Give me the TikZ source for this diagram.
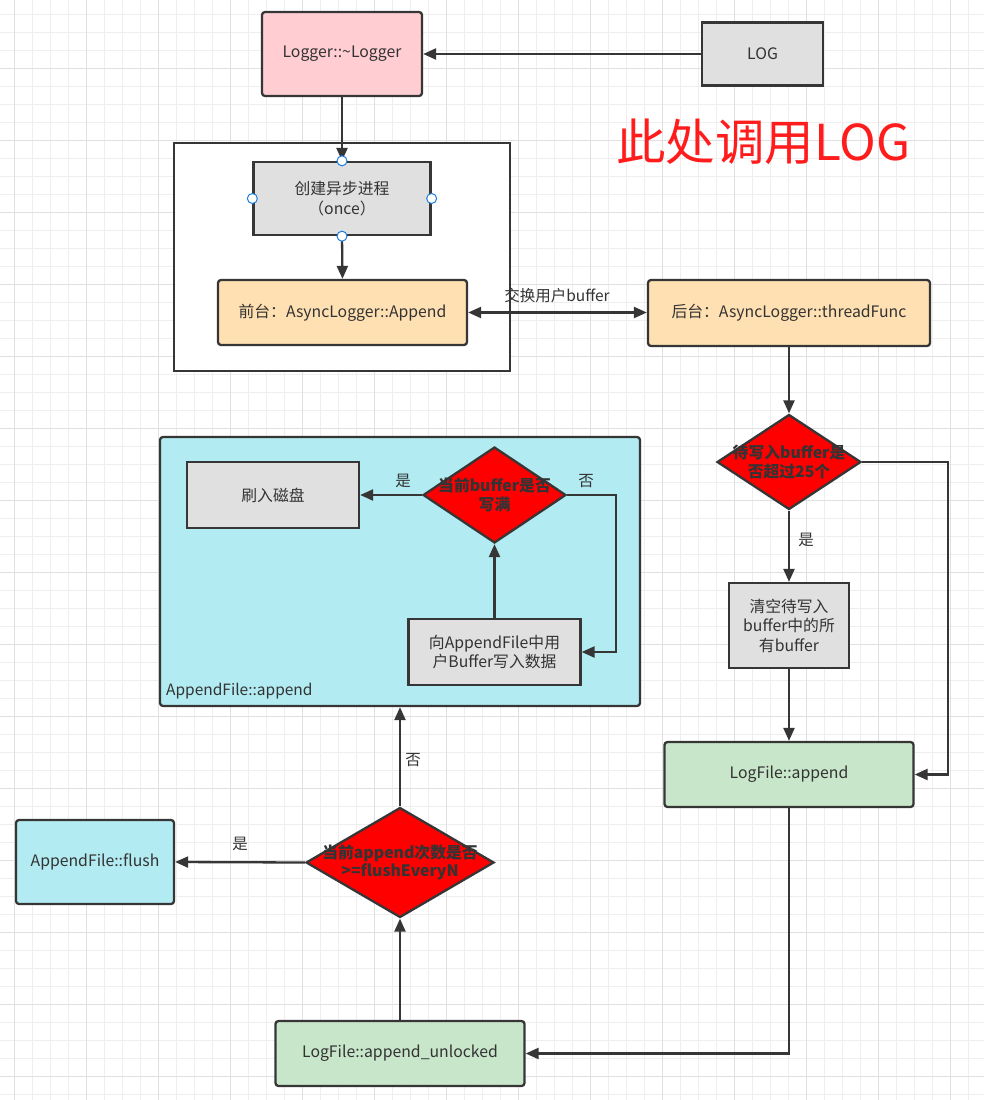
\documentclass[tikz,border=0pt]{standalone}
\usepackage{fontspec}
\setmainfont{Noto Sans CJK SC}
\usetikzlibrary{arrows.meta,shapes.geometric}
\definecolor{stk}{HTML}{363636}
\definecolor{txt}{HTML}{333333}
\definecolor{pinkf}{HTML}{FFCDD2}
\definecolor{grayf}{HTML}{E0E0E0}
\definecolor{orangef}{HTML}{FFE0B2}
\definecolor{cyanf}{HTML}{B2EBF2}
\definecolor{greenf}{HTML}{C8E6C9}
\definecolor{redd}{HTML}{FF0000}
\definecolor{titlered}{HTML}{FF1C1C}
\definecolor{handleblue}{HTML}{1E7FE0}
\definecolor{gminor}{HTML}{EEEEEE}
\definecolor{gmajor}{HTML}{E0E0E0}
\begin{document}
\begin{tikzpicture}[x=1pt,y=-1pt,
  stroke/.style={draw=stk,line width=2.3pt},
  fbox/.style={stroke,rectangle,align=center,inner sep=2pt,text=txt,font=\fontsize{15.8}{19.5}\selectfont},
  rbox/.style={fbox,rounded corners=3pt},
  dia/.style={stroke,diamond,fill=redd,inner sep=0pt},
  diatext/.style={align=center,text=txt,font=\bfseries\fontsize{15.8}{18.5}\selectfont,inner sep=0pt},
  arr/.style={draw=stk,line width=2.3pt,-{Triangle[length=13pt,width=11pt]}},
  lbl/.style={text=txt,font=\fontsize{15.5}{17}\selectfont,inner sep=0pt},
  handle/.style={circle,draw=handleblue,fill=white,line width=1pt,minimum size=10pt,inner sep=0pt}
]
\useasboundingbox (0,0) rectangle (984,1100);
\fill[white] (0,0) rectangle (984,1100);
% grid
\foreach \x in {14,32,...,984} \draw[gminor,line width=1pt] (\x,0) -- (\x,1100);
\foreach \y in {14,32,...,1100} \draw[gminor,line width=1pt] (0,\y) -- (984,\y);
\foreach \x in {14,86,...,984} \draw[gmajor,line width=1pt] (\x,0) -- (\x,1100);
\foreach \y in {68,140,...,1100} \draw[gmajor,line width=1pt] (0,\y) -- (984,\y);

% top part
\node[rbox,fill=pinkf,minimum width=160pt,minimum height=84pt] (logger) at (342,54) {Logger::\textasciitilde Logger};
\node[fbox,fill=grayf,minimum width=121pt,minimum height=63pt] (log) at (762.5,54) {LOG};
\node[text=titlered,font=\fontsize{49.5}{51}\selectfont,anchor=west,inner sep=0pt] (title) at (616,142) {此处调用LOG};

\node[fbox,fill=white,minimum width=336pt,minimum height=228pt] (frame) at (342,257) {};
\node[fbox,fill=grayf,minimum width=177pt,minimum height=73pt] (create) at (342,198.5) {创建异步进程\\（once）};
\node[rbox,fill=orangef,minimum width=249pt,minimum height=65pt] (front) at (342.5,312.5) {前台：AsyncLogger::Append};
\node[rbox,fill=orangef,minimum width=282pt,minimum height=66pt] (back) at (789,313) {后台：AsyncLogger::threadFunc};

\draw[arr] (log.west) -- (logger.east);
\draw[arr] (logger.south) -- (create.north);
\draw[arr] (create.south) -- (front.north);
\draw[draw=stk,line width=2.3pt,{Triangle[length=13pt,width=11pt]}-{Triangle[length=13pt,width=11pt]}] (front.east) -- (front.east -| back.west);
\node[lbl] (swaplbl) at (557,296) {交换用户buffer};

\node[handle] (h1) at (create.north) {};
\node[handle] (h2) at (create.south) {};
\node[handle] (h3) at (create.west) {};
\node[handle] (h4) at (create.east) {};

% right column
\node[dia,minimum width=144pt,minimum height=95pt] (d1) at (789,462) {};
\node[diatext] (d1t) at (d1.center) {待写入buffer是\\否超过25个};
\node[fbox,fill=grayf,minimum width=120pt,minimum height=85pt] (clear) at (789,625.5) {清空待写入\\buffer中的所\\有buffer};
\node[rbox,fill=greenf,minimum width=249pt,minimum height=65pt] (lfappend) at (789,774.5) {LogFile::append};

\draw[arr] (back.south) -- (d1.north);
\draw[arr] (d1.south) -- (clear.north);
\node[lbl] (yes1) at (806,540) {是};
\draw[arr] (clear.south) -- (lfappend.north);
\coordinate (c1) at (948,462);
\draw[arr] (d1.east) -- (c1) |- (lfappend.east);

% AppendFile::append container
\node[rbox,fill=cyanf,minimum width=480pt,minimum height=269pt] (cont) at (400,571.5) {};
\node[lbl,anchor=west] (contlbl) at (166,691) {AppendFile::append};
\node[fbox,fill=grayf,minimum width=172pt,minimum height=66pt] (disk) at (273,495) {刷入磁盘};
\node[dia,minimum width=143pt,minimum height=96pt] (d2) at (494.5,495) {};
\node[diatext] (d2t) at (d2.center) {当前buffer是否\\写满};
\node[fbox,fill=grayf,minimum width=172pt,minimum height=66pt] (wbox) at (494.5,652) {向AppendFile中用\\户Buffer写入数据};

\draw[arr] (d2.west) -- (disk.east);
\node[lbl] (yes2) at (403,481) {是};
\coordinate (c2) at (616,495);
\draw[arr] (d2.east) -- (c2) |- (wbox.east);
\node[lbl] (no2) at (586,481) {否};
\draw[arr] (wbox.north) -- (d2.south);

% bottom part
\node[rbox,fill=cyanf,minimum width=158pt,minimum height=84pt] (flush) at (95,862) {AppendFile::flush};
\node[dia,minimum width=188pt,minimum height=110pt] (d3) at (400,862.5) {};
\node[diatext] (d3t) at (d3.center) {当前append次数是否\\>=flushEveryN};
\node[rbox,fill=greenf,minimum width=249pt,minimum height=65pt] (unlocked) at (400,1053.5) {LogFile::append\_unlocked};

\draw[arr] (d3.west) -- (flush.east);
\node[lbl] (yes3) at (240,844) {是};
\draw[arr] (d3.north) -- (cont.south);
\node[lbl] (no3) at (413,760) {否};
\draw[arr] (unlocked.north) -- (d3.south);
\draw[arr] (lfappend.south) |- (unlocked.east);
\end{tikzpicture}
\end{document}
